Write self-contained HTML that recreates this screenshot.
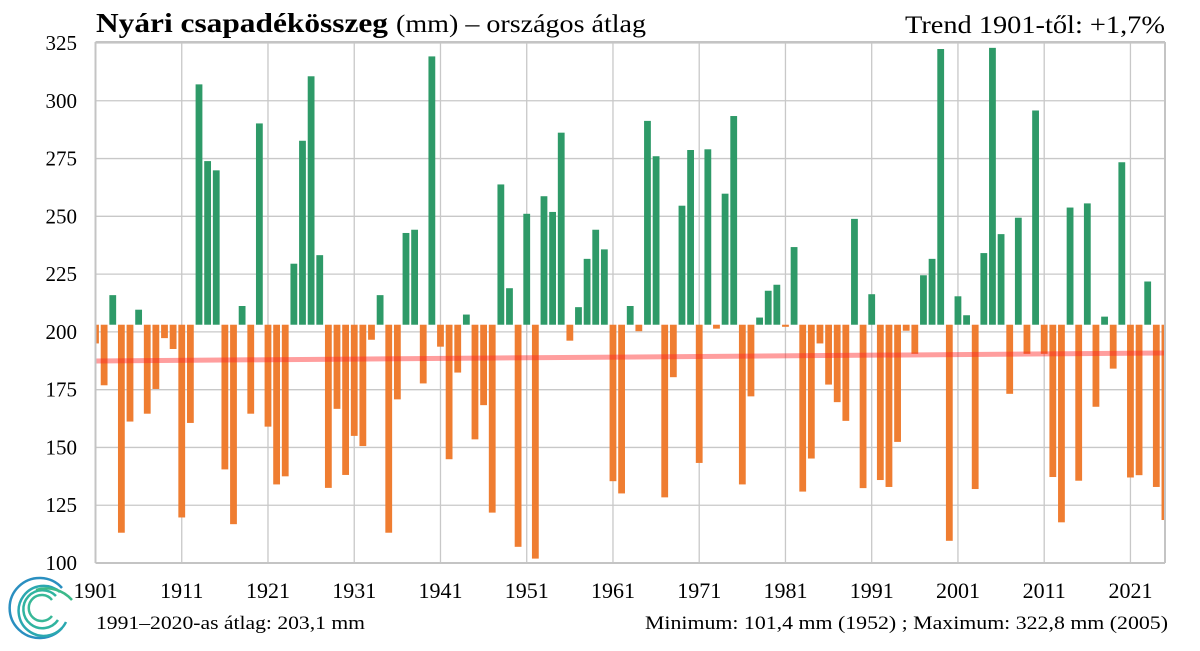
<!DOCTYPE html>
<html><head><meta charset="utf-8"><style>
html,body{margin:0;padding:0;background:#fff;}
body{width:1200px;height:646px;overflow:hidden;}
svg text{font-family:"Liberation Serif",serif;fill:#000;}
</style></head><body>
<svg id="c" width="1200" height="646" xmlns="http://www.w3.org/2000/svg">
<rect width="1200" height="646" fill="#fff"/>
<g id="grid" stroke="#c8c8c8" stroke-width="1.3"></g>
<g id="bars"></g>
<line x1="95.5" y1="361" x2="1165" y2="353" stroke="rgba(255,40,40,0.45)" stroke-width="5"/>
<g stroke="#c4c4c4" stroke-width="2" fill="none">
<line x1="95.5" y1="42" x2="95.5" y2="563"/>
<line x1="95.5" y1="563" x2="1165" y2="563"/>
<line x1="1165" y1="42" x2="1165" y2="563"/>
<line x1="95.5" y1="42" x2="1165" y2="42"/>
</g>
<g id="ylab" font-size="21" text-anchor="end"></g>
<g id="xlab" font-size="22" text-anchor="middle"></g>
<text x="96" y="32" font-size="27" font-weight="bold" textLength="292" lengthAdjust="spacingAndGlyphs">Nyári csapadékösszeg</text>
<text x="396" y="32" font-size="25" textLength="250" lengthAdjust="spacingAndGlyphs">(mm) – országos átlag</text>
<text x="905" y="33" font-size="25" textLength="260" lengthAdjust="spacingAndGlyphs">Trend 1901-től: +1,7%</text>
<text x="96" y="629" font-size="19" textLength="269" lengthAdjust="spacingAndGlyphs">1991–2020-as átlag:  203,1 mm</text>
<text x="645" y="629" font-size="19" textLength="523" lengthAdjust="spacingAndGlyphs">Minimum:  101,4 mm (1952) ; Maximum:  322,8 mm (2005)</text>
<g fill="none" stroke-width="2.5">
<path d="M62 588 A30 30 0 1 0 62 628" stroke="#2a8fc0"/>
<path d="M60 592 A25 25 0 1 0 66 622" stroke="#2aa8b0"/>
<path d="M56 596 A19 19 0 1 0 58 620" stroke="#30b4a0"/>
<path d="M52 600 A13 13 0 1 0 52 616" stroke="#38b898"/>
<path d="M36 590 A34 34 0 0 1 72 600" stroke="#3cb98a"/>
</g>
</svg>
<script>
(function(){
var v=[195,176.9,215.9,113.1,161.2,209.6,164.6,175.3,197.3,192.6,119.7,160.6,307.1,273.9,269.9,140.5,116.8,211.2,164.6,290.2,159,134,137.5,229.5,282.7,310.6,233.2,132.5,166.7,138.1,155,150.6,196.6,215.9,113.1,170.8,242.8,244.2,177.7,319.2,193.6,144.9,182.4,207.5,153.5,168.3,121.8,263.8,218.9,107,251.1,101.9,258.7,251.9,286.2,196.2,210.7,231.6,244.2,235.7,135.4,130.1,211.2,200.3,291.3,276,128.4,180.4,254.6,278.7,143.3,279,201.4,259.8,293.4,134,172.1,206.2,217.8,220.4,202.2,236.7,130.9,145.2,195,177.2,169.6,161.5,248.9,132.4,216.3,135.9,132.9,152.4,200.5,190.5,224.5,231.6,322.4,109.6,215.4,207.2,132,234.1,322.9,242.3,173.2,249.4,190.5,295.8,190.5,137.2,117.6,253.8,135.6,255.6,167.6,206.6,184.1,273.4,137,138,221.8,132.9,118.6];
var NS="http://www.w3.org/2000/svg";
function Y(a){return 43+(325-a)*2.3111;}
function X(i){return 95.5+i*8.6245;}
var g=document.getElementById('grid'),b=document.getElementById('bars'),yl=document.getElementById('ylab'),xl=document.getElementById('xlab');
function el(t,a,p){var e=document.createElementNS(NS,t);for(var k in a)e.setAttribute(k,a[k]);p.appendChild(e);return e;}
for(var t=100;t<=325;t+=25){el('line',{x1:95.5,x2:1165,y1:Y(t),y2:Y(t)},g);var tx=el('text',{x:77,y:Y(t)+7},yl);tx.textContent=t;}
for(var yr=1901;yr<=2021;yr+=10){var i=yr-1901;el('line',{x1:X(i),x2:X(i),y1:42,y2:563},g);var tx2=el('text',{x:X(i),y:598},xl);tx2.textContent=yr;}
var base=Y(203.1);
for(var j=0;j<v.length;j++){var cx=X(j),w=6.8,xa=cx-w/2,xb=cx+w/2;if(xa<95.5)xa=95.5;if(xb>1165)xb=1165;
var yy=Y(v[j]);var ty=Math.min(yy,base),h=Math.abs(yy-base);if(h<1.2)h=1.2;
el('rect',{x:xa,y:ty,width:xb-xa,height:h,fill:v[j]>=203.1?'#2e9a68':'#ef7d31'},b);}
})();
</script>
</body></html>
